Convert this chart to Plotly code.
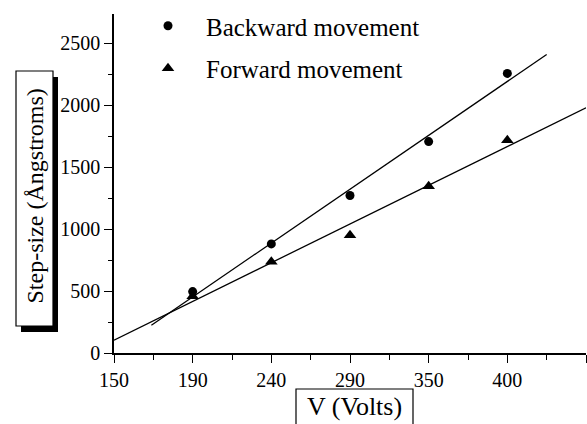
import numpy as np
import plotly.graph_objects as go

# ---- data ----
tick_volts = [150, 190, 240, 290, 350, 400, 450]
tick_labels = ["150", "190", "240", "290", "350", "400", ""]
volts = [190, 240, 290, 350, 400]
backward = [495, 880, 1270, 1705, 2255]
forward = [458, 735, 950, 1345, 1715]
backward_fit_span = [169, 425]
forward_fit_span = [150, 450]

W, H = 587, 424
ML, MR, MT, MB = 114, 1, 14, 71
pw, ph = W - ML - MR, H - MT - MB


def px(x):
    return (x - ML) / pw


def py(y):
    return (H - MB - y) / ph


def pos(v):
    return np.interp(v, tick_volts, np.arange(len(tick_volts)))


xb = pos(volts)
fit_b = np.polyfit(xb, backward, 1)
fit_f = np.polyfit(xb, forward, 1)
lb = pos(backward_fit_span)
lf = pos(forward_fit_span)

font = "Liberation Serif"
fig = go.Figure()
fig.add_trace(go.Scatter(x=lb, y=np.polyval(fit_b, lb), mode="lines",
                         line=dict(color="black", width=1.3), showlegend=False))
fig.add_trace(go.Scatter(x=lf, y=np.polyval(fit_f, lf), mode="lines",
                         line=dict(color="black", width=1.3), showlegend=False))
fig.add_trace(go.Scatter(x=xb, y=backward, mode="markers", name="Backward movement",
                         legendgroup="b",
                         marker=dict(symbol="circle", size=9, color="black")))
fig.add_trace(go.Scatter(x=xb, y=forward, mode="markers", name="Forward movement",
                         legendgroup="f",
                         marker=dict(symbol="triangle-up", size=11, color="black")))

tickfont = dict(size=20, family=font, color="black")
fig.update_layout(
    width=W, height=H,
    margin=dict(l=ML, r=MR, t=MT, b=MB, pad=0, autoexpand=False),
    paper_bgcolor="white", plot_bgcolor="white",
    font=dict(family=font, size=20, color="black"),
    showlegend=True,
    legend=dict(x=px(130), y=py(3), xanchor="left", yanchor="top",
                font=dict(size=25, family=font, color="black"), bgcolor="rgba(0,0,0,0)",
                itemwidth=66, tracegroupgap=7),
    xaxis=dict(range=[0, 6], showline=True, linecolor="black", linewidth=1.5,
               showgrid=False, zeroline=False, ticks="outside", ticklen=8,
               tickwidth=1.2, tickcolor="black", automargin=False,
               tickmode="array", tickvals=list(range(len(tick_volts))), ticktext=tick_labels,
               minor=dict(ticks="outside", ticklen=5, tickwidth=1.2, tickcolor="black",
                          tickmode="linear", tick0=0.5, dtick=1, showgrid=False),
               tickfont=tickfont),
    yaxis=dict(range=[0, 2734], showline=True, linecolor="black", linewidth=1.5,
               showgrid=False, zeroline=False, ticks="outside", ticklen=8,
               tickwidth=1.2, tickcolor="black", tickmode="linear", tick0=0, dtick=500,
               automargin=False,
               minor=dict(ticks="outside", ticklen=4, tickwidth=1.2, tickcolor="black",
                          tickmode="linear", tick0=0, dtick=250, showgrid=False),
               tickfont=tickfont),
)

shapes = [
    # y title shadow
    dict(type="rect", xref="paper", yref="paper", x0=px(21), x1=px(58), y0=py(332), y1=py(77),
         fillcolor="black", line=dict(width=0), layer="above"),
    # y title box
    dict(type="rect", xref="paper", yref="paper", x0=px(16), x1=px(53), y0=py(326), y1=py(71),
         fillcolor="white", line=dict(color="black", width=1.2), layer="above"),
    # x title box
    dict(type="rect", xref="paper", yref="paper", x0=px(296), x1=px(413), y0=py(440), y1=py(389),
         fillcolor="white", line=dict(color="black", width=1.2), layer="above"),
]
fig.update_layout(shapes=shapes)

fig.add_annotation(text="Step-size (Ångstroms)", textangle=-90, xref="paper", yref="paper",
                   x=px(34.5), y=py(196), xanchor="center", yanchor="middle",
                   showarrow=False, font=dict(size=24, family=font, color="black"))
fig.add_annotation(text="V (Volts)", xref="paper", yref="paper",
                   x=px(354.5), y=py(406), xanchor="center", yanchor="middle",
                   showarrow=False, font=dict(size=26, family=font, color="black"))

fig.write_html("out.html", config={"displayModeBar": False},
               post_script="document.body.style.margin='0px';document.body.style.overflow='hidden';")
